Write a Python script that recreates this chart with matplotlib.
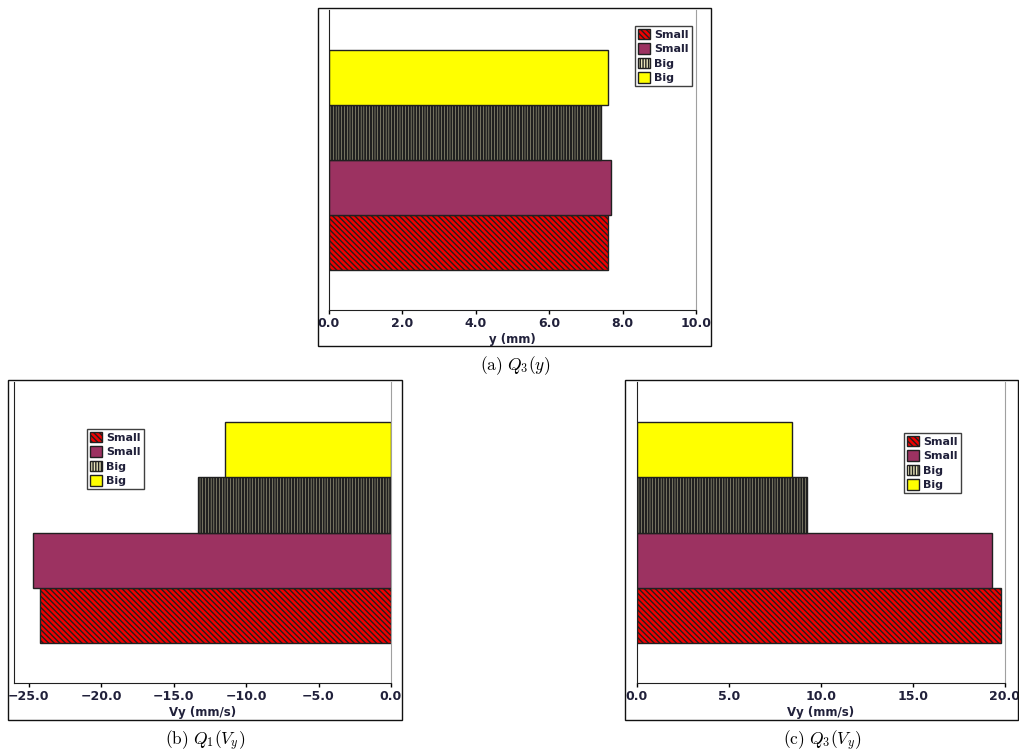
import matplotlib.pyplot as plt
from matplotlib.patches import Rectangle
from matplotlib.ticker import FuncFormatter

plt.rcParams['mathtext.fontset'] = 'cm'

# Series labels, top to bottom in the legend
labels = ['Small', 'Small', 'Big', 'Big']
colors = ['#f00000', '#9c3261', '#e8e4b8', '#ffff00']
hatches = ['\\\\\\\\\\\\', None, '||||||', None]
hatch_lw = [1.0, 1.0, 1.7, 1.0]

# values (bottom bar first)
q3_y = [7.60, 7.69, 7.40, 7.60]
q1_vy = [-24.2, -24.67, -13.3, -11.47]
q3_vy = [19.78, 19.28, 9.22, 8.40]

captions = [r'$\mathrm{(a)}\ Q_3(y)$', r'$\mathrm{(b)}\ Q_1(V_y)$', r'$\mathrm{(c)}\ Q_3(V_y)$']
xlabels = ['y (mm)', 'Vy (mm/s)', 'Vy (mm/s)']
xlims = [(0, 10), (-26, 0), (0, 20)]
xticks = [[0, 2, 4, 6, 8, 10], [-25, -20, -15, -10, -5, 0], [0, 5, 10, 15, 20]]
values = [q3_y, q1_vy, q3_vy]

W, H = 1020, 754
# axes box (left, top, right, bottom) in pixels, outer frame, legend corner, caption pos
axes_px = [(329, 10, 696, 310), (14, 382, 391, 683), (637, 382, 1005, 683)]
box_px = [(318, 8, 711, 346), (8, 380, 402, 720), (625, 380, 1018, 720)]
legend_px = [(635, 26), (87, 429), (904, 433)]
caption_px = [(515, 366), (205, 741), (822, 741)]

txt = '#20203a'

fig = plt.figure(figsize=(W / 100, H / 100), dpi=100)

for i in range(3):
    l, t, r, b = axes_px[i]
    ax = fig.add_axes([l / W, 1 - b / H, (r - l) / W, (b - t) / H])
    for k in range(4):
        with plt.rc_context({'hatch.linewidth': hatch_lw[k]}):
            bc = ax.barh(k, values[i][k], height=1.0, color=colors[k],
                         hatch=hatches[k], edgecolor='#202020', linewidth=1.0,
                         label=labels[k])
        for p in bc:
            if hasattr(p, 'set_hatch_linewidth'):
                p.set_hatch_linewidth(hatch_lw[k])
    ax.set_ylim(-1.23, 4.23)
    ax.set_xlim(*xlims[i])
    ax.set_xticks(xticks[i])
    ax.xaxis.set_major_formatter(FuncFormatter(lambda x, p: f'{x:.1f}'.replace('-', '\u2212')))
    ax.set_yticks([])
    ax.tick_params(axis='x', length=3, width=1, pad=2, labelsize=9, labelcolor=txt)
    for lab in ax.get_xticklabels():
        lab.set_fontweight('bold')
    ax.set_xlabel(xlabels[i], fontsize=8.5, fontweight='bold', color=txt, labelpad=2)
    ax.spines['left'].set_color('#202020')
    ax.spines['bottom'].set_color('#202020')
    ax.spines['right'].set_color('#a0a0a0')
    ax.spines['top'].set_visible(False)

    lx, ly = legend_px[i]
    leg = ax.legend(loc='upper left',
                    bbox_to_anchor=((lx - l) / (r - l), (b - ly) / (b - t)),
                    prop={'weight': 'bold', 'size': 8}, fancybox=False,
                    framealpha=1, edgecolor='#404040', borderpad=0.25,
                    labelspacing=0.3, handlelength=1.1, handleheight=1.1,
                    handletextpad=0.4, borderaxespad=0)
    for tx in leg.get_texts():
        tx.set_color(txt)

    bl, bt, br, bb = box_px[i]
    fig.patches.append(Rectangle((bl / W, 1 - bb / H), (br - bl) / W, (bb - bt) / H,
                                 transform=fig.transFigure, fill=False,
                                 edgecolor='#111111', linewidth=1.0))
    cx, cy = caption_px[i]
    fig.text(cx / W, 1 - cy / H, captions[i], ha='center', va='center', fontsize=12.5)

fig.savefig('out.png', dpi=100)
